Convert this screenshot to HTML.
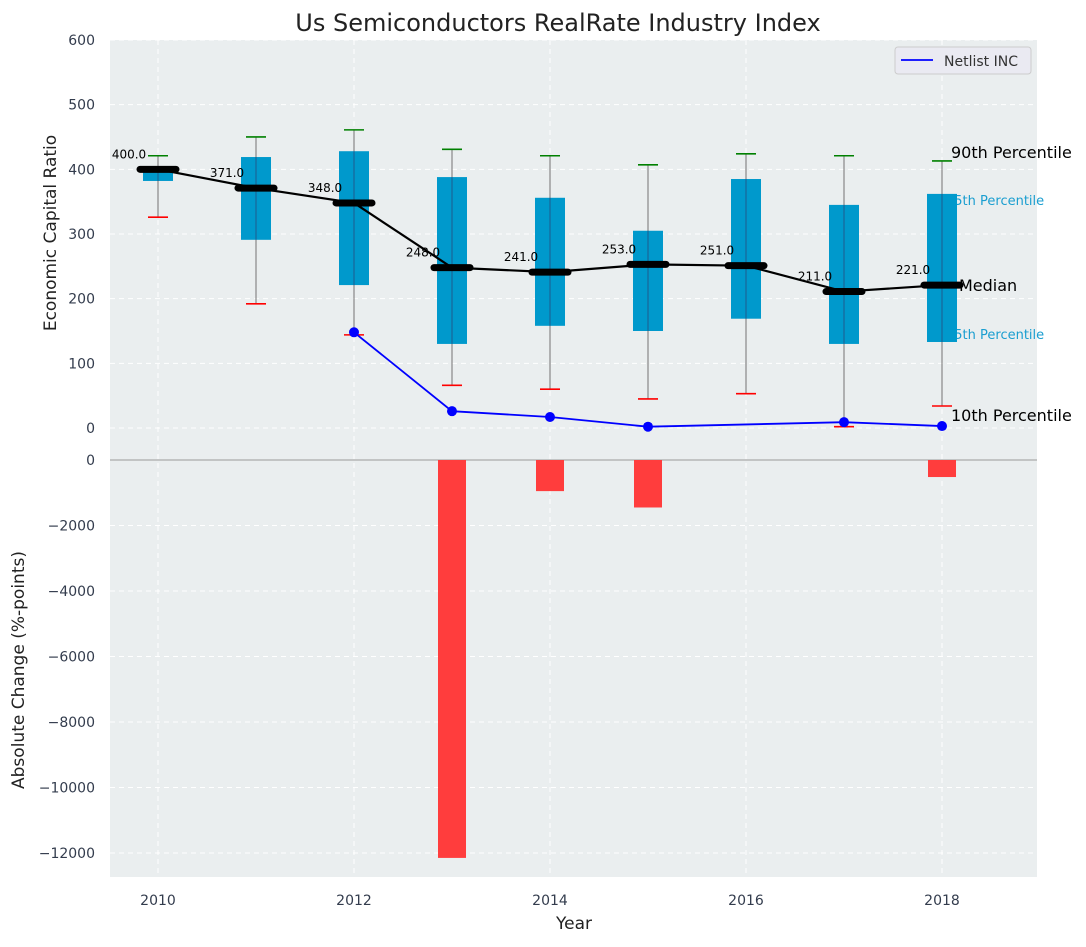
<!DOCTYPE html>
<html><head><meta charset="utf-8"><style>
body{margin:0;background:#fff;font-family:"Liberation Sans","DejaVu Sans",sans-serif;}
svg text{font-family:"DejaVu Sans","Liberation Sans",sans-serif;}
</style></head><body>
<svg id="c" width="1086" height="942" xmlns="http://www.w3.org/2000/svg"></svg>
<script>
const years=[2010,2011,2012,2013,2014,2015,2016,2017,2018];
const medians=[400,371,348,248,241,253,251,211,221];
const q75=[405,419,428,388,356,305,385,345,362];
const q25=[382,291,221,130,158,150,169,130,133];
const p90=[421,450,461,431,421,407,424,421,413];
const p10=[326,192,144,66,60,45,53,2,34];
const netYears=[2012,2013,2014,2015,2017,2018];
const netVals=[148,26,17,2,9,3];
const barYears=[2013,2014,2015,2018];
const barVals=[-12150,-950,-1450,-520];
const topTicks=[0,100,200,300,400,500,600];
const botTicks=[0,-2000,-4000,-6000,-8000,-10000,-12000];
const xTicks=[2010,2012,2014,2016,2018];

const NS="http://www.w3.org/2000/svg",svg=document.getElementById('c');
function el(t,a,p){const e=document.createElementNS(NS,t);for(const k in a)e.setAttribute(k,a[k]);(p||svg).appendChild(e);return e;}
const X=v=>158+(v-2010)*98;
const YT=v=>428-v*0.6467;
const YB=v=>460-v*(65.5/2000);

let bg=el('rect',{x:110,y:40,width:927,height:837,fill:'#eaeeef'});

for(const t of topTicks){let g=el('line',{x1:110,x2:1037,y1:YT(t),y2:YT(t),stroke:'#fff','stroke-dasharray':'5,4','stroke-width':1});

let tx=el('text',{x:95,y:YT(t)+5,'text-anchor':'end','font-size':14,fill:'#333c4d'});tx.textContent=t;
}
for(const t of botTicks){let g=el('line',{x1:110,x2:1037,y1:YB(t),y2:YB(t),stroke:'#fff','stroke-dasharray':'5,4','stroke-width':1});

let tx=el('text',{x:95,y:YB(t)+5,'text-anchor':'end','font-size':14,fill:'#333c4d'});tx.textContent=String(t).replace('-','\u2212');
}
for(const t of xTicks){let g=el('line',{x1:X(t),x2:X(t),y1:40,y2:877,stroke:'#fff','stroke-dasharray':'5,4','stroke-width':1});

let tx=el('text',{x:X(t),y:905,'text-anchor':'middle','font-size':14,fill:'#333c4d'});tx.textContent=t;
}
let zl=el('line',{x1:110,x2:1037,y1:460,y2:460,stroke:'#aaa','stroke-width':1.2});


const lx=X(2018);
[['75th Percentile',205],['25th Percentile',339]].forEach(([s,y])=>{let t=el('text',{x:lx+4,y:y,'font-size':13,fill:'#1a9ed0'});t.textContent=s;
});

years.forEach((yr,i)=>{const x=X(yr);
let w=el('line',{x1:x,x2:x,y1:YT(p90[i]),y2:YT(p10[i]),stroke:'#888','stroke-width':1.2});

let g=el('line',{x1:x-10,x2:x+10,y1:YT(p90[i]),y2:YT(p90[i]),stroke:'green','stroke-width':1.6});

let r=el('line',{x1:x-10,x2:x+10,y1:YT(p10[i]),y2:YT(p10[i]),stroke:'red','stroke-width':1.6});

let b=el('rect',{x:x-15,y:YT(q75[i]),width:30,height:YT(q25[i])-YT(q75[i]),fill:'#0099cc'});

let w2=el('line',{x1:x,x2:x,y1:YT(q75[i]),y2:YT(q25[i]),stroke:'#336','stroke-width':1,opacity:0.6});

});
let mp=el('polyline',{points:years.map((y,i)=>X(y)+','+YT(medians[i])).join(' '),fill:'none',stroke:'#000','stroke-width':2.2});

years.forEach((yr,i)=>{const x=X(yr),y=YT(medians[i]);
let m=el('line',{x1:x-18,x2:x+18,y1:y,y2:y,stroke:'#000','stroke-width':7,'stroke-linecap':'round'});

let t=el('text',{x:x-29,y:y-11,'text-anchor':'middle','font-size':12,fill:'#000'});t.textContent=medians[i].toFixed(1);
});
let np=el('polyline',{points:netYears.map((y,i)=>X(y)+','+YT(netVals[i])).join(' '),fill:'none',stroke:'blue','stroke-width':1.8});

netYears.forEach((yr,i)=>{let c=el('circle',{cx:X(yr),cy:YT(netVals[i]),r:5,fill:'blue'});
});
barYears.forEach((yr,i)=>{let b=el('rect',{x:X(yr)-14,y:YB(0),width:28,height:YB(barVals[i])-YB(0),fill:'#ff3d3d'});
});
[['90th Percentile',lx+9,158,16],['Median',lx+17,YT(medians[8])+6,16],['10th Percentile',lx+9,421,16]].forEach(([s,x,y,f])=>{let t=el('text',{x:x,y:y,'font-size':f,fill:'#000'});t.textContent=s;
});
let lg=el('rect',{x:895,y:47,width:136,height:27,rx:3,fill:'#eaeaf2',stroke:'#ccc'});

let ll=el('line',{x1:901,x2:933,y1:60,y2:60,stroke:'blue','stroke-width':1.8});

let lt=el('text',{x:944,y:66,'font-size':14,fill:'#333'});lt.textContent='Netlist INC';

let ti=el('text',{x:558,y:31,'text-anchor':'middle','font-size':24,fill:'#222'});ti.textContent='Us Semiconductors RealRate Industry Index';

let xt=el('text',{x:574,y:929,'text-anchor':'middle','font-size':17,fill:'#222'});xt.textContent='Year';

let y1=el('text',{x:0,y:0,'text-anchor':'middle','font-size':17,fill:'#222',transform:'translate(56,233) rotate(-90)'});y1.textContent='Economic Capital Ratio';

let y2=el('text',{x:0,y:0,'text-anchor':'middle','font-size':17,fill:'#222',transform:'translate(24,670) rotate(-90)'});y2.textContent='Absolute Change (%-points)';

</script>
</body></html>
